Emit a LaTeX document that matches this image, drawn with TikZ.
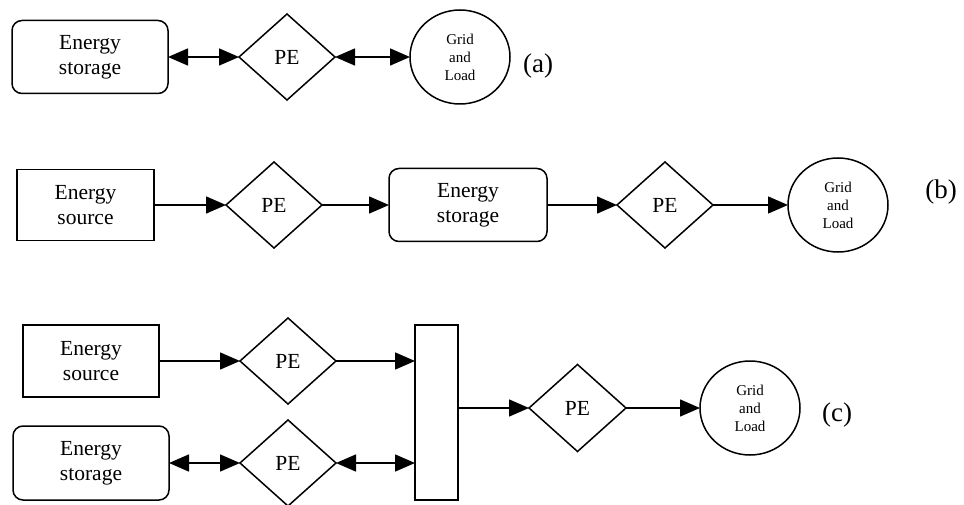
\documentclass[tikz,border=0pt]{standalone}
\usepackage{fontspec}
\setmainfont{Liberation Serif}
\usetikzlibrary{shapes.geometric,arrows.meta}
\tikzset{
  x=1pt, y=-1pt,
  every node/.style={inner sep=0pt, outer sep=0pt},
  boxsq/.style={draw, line width=1.5pt, rectangle, align=center, font=\fontsize{21.5}{25}\selectfont},
  boxrd/.style={boxsq, rounded corners=10pt},
  pe/.style={draw, line width=1.5pt, diamond, minimum width=96pt, minimum height=86pt, font=\fontsize{21.5}{25}\selectfont},
  grid/.style={draw, line width=1.5pt, ellipse, minimum width=100pt, minimum height=94pt, align=center, font=\fontsize{15}{18}\selectfont},
  lab/.style={font=\fontsize{27}{30}\selectfont},
  tip/.style={-{Triangle[length=20pt,width=17pt]}, line width=1.5pt},
  dtip/.style={{Triangle[length=20pt,width=17pt]}-{Triangle[length=20pt,width=17pt]}, line width=1.5pt}
}
\begin{document}
\begin{tikzpicture}
\useasboundingbox (0,0) rectangle (964,505);
% (a)
\node[boxrd, minimum width=156pt, minimum height=73pt] (sa) at (90,57) {Energy\\storage};
\node[pe] (pa) at (287,57) {PE};
\node[grid] (ga) at (460,57) {Grid\\and\\Load};
\node[lab] (la) at (538,66) {(a)};
\draw[dtip] (sa.east) -- (pa.west);
\draw[dtip] (pa.east) -- (ga.west);
% (b)
\node[boxsq, minimum width=137pt, minimum height=71pt] (srcb) at (85.5,205) {Energy\\source};
\node[pe] (pb1) at (274,205) {PE};
\node[boxrd, minimum width=158pt, minimum height=73pt] (stb) at (468,205) {Energy\\storage};
\node[pe] (pb2) at (665,205) {PE};
\node[grid] (gb) at (838,205) {Grid\\and\\Load};
\node[lab] (lb) at (941,192) {(b)};
\draw[tip] (srcb.east) -- (pb1.west);
\draw[tip] (pb1.east) -- (stb.west);
\draw[tip] (stb.east) -- (pb2.west);
\draw[tip] (pb2.east) -- (gb.west);
% (c)
\node[boxsq, minimum width=136pt, minimum height=72pt] (srcc) at (91,361) {Energy\\source};
\node[pe] (pc1) at (288,361) {PE};
\node[boxrd, minimum width=156pt, minimum height=74pt] (stc) at (91,463) {Energy\\storage};
\node[pe] (pc2) at (288,463) {PE};
\node[draw, line width=1.5pt, minimum width=43pt, minimum height=175pt] (bar) at (436.5,412.5) {};
\node[pe, minimum width=97pt, minimum height=87pt] (pc3) at (577.5,408) {PE};
\node[grid] (gc) at (750,408) {Grid\\and\\Load};
\node[lab] (lc) at (837,415) {(c)};
\draw[tip] (srcc.east) -- (pc1.west);
\draw[tip] (pc1.east) -- (pc1.east -| bar.west);
\draw[dtip] (stc.east) -- (pc2.west);
\draw[dtip] (pc2.east) -- (pc2.east -| bar.west);
\draw[tip] (pc3.west -| bar.east) -- (pc3.west);
\draw[tip] (pc3.east) -- (gc.west);
\end{tikzpicture}
\end{document}
